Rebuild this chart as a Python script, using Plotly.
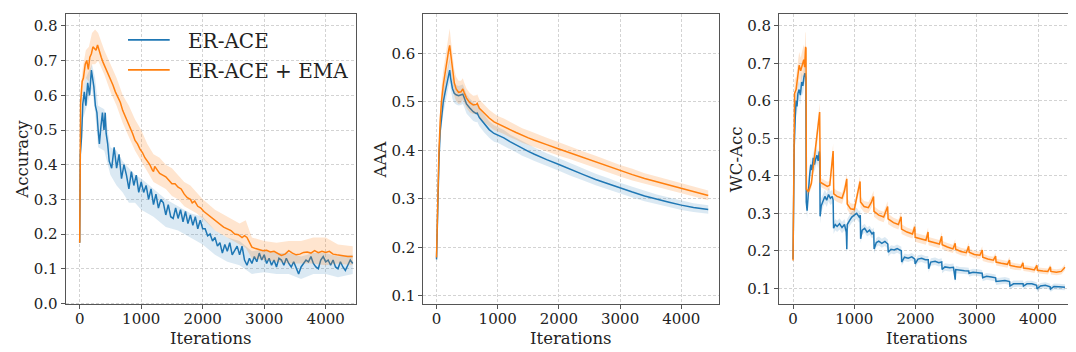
import plotly.graph_objects as go

# ---------------- Panel 1: Accuracy ----------------
acc_blue_iter = ([0, 10, 30, 50, 75, 100, 130, 160, 190, 210,
                  230, 255, 280, 300, 320, 345, 370, 395, 415, 430,
                  455, 480] + list(range(520, 4441, 40)))
acc_blue = [0.175, 0.43, 0.48, 0.575, 0.61, 0.57, 0.636, 0.6, 0.673, 0.645,
            0.625, 0.57, 0.55, 0.5, 0.46, 0.51, 0.55, 0.5, 0.55, 0.49,
            0.46, 0.41,
            0.39, 0.45, 0.39, 0.43, 0.36, 0.40, 0.37, 0.33, 0.38, 0.34, 0.37, 0.32, 0.35,
            0.32, 0.34, 0.30, 0.33, 0.285, 0.315, 0.275, 0.30, 0.29, 0.255,
            0.285, 0.25, 0.245, 0.275, 0.245, 0.27, 0.235, 0.265, 0.23, 0.255,
            0.225, 0.25, 0.215, 0.24, 0.215,
            0.215, 0.195, 0.2, 0.18, 0.19, 0.165, 0.175, 0.145, 0.17, 0.15,
            0.175, 0.14, 0.155, 0.165, 0.14, 0.165, 0.125, 0.11, 0.13, 0.115,
            0.135, 0.12, 0.145, 0.125, 0.14,
            0.115, 0.13, 0.11, 0.125, 0.105, 0.13, 0.125, 0.11, 0.13, 0.115,
            0.105, 0.12, 0.1, 0.085, 0.105, 0.115, 0.125, 0.12, 0.135, 0.115,
            0.105, 0.1, 0.125, 0.135, 0.12,
            0.125, 0.11, 0.125, 0.105, 0.1, 0.12, 0.105, 0.095, 0.11, 0.125, 0.115]

acc_blue_band_iter = [0, 10, 50, 100, 200, 250, 300, 400, 500, 600,
                      700, 800, 900, 1000, 1200, 1400, 1600, 1800, 2000, 2200,
                      2400, 2600, 2800, 3000, 3200, 3400, 3600, 3800, 4000, 4200, 4440]
acc_blue_lo = [0.17, 0.40, 0.53, 0.56, 0.62, 0.55, 0.45, 0.44, 0.37, 0.34,
               0.32, 0.29, 0.29, 0.27, 0.25, 0.22, 0.21, 0.19, 0.17, 0.14,
               0.12, 0.11, 0.085, 0.09, 0.085, 0.085, 0.07, 0.085, 0.085, 0.075, 0.085]
acc_blue_hi = [0.18, 0.46, 0.61, 0.65, 0.69, 0.65, 0.57, 0.56, 0.45, 0.44,
               0.41, 0.39, 0.37, 0.36, 0.33, 0.30, 0.28, 0.26, 0.25, 0.21,
               0.19, 0.18, 0.15, 0.155, 0.145, 0.145, 0.135, 0.145, 0.145, 0.135, 0.14]

acc_orange_iter = [0, 15, 40, 60, 90, 115, 140, 165, 190, 215,
                   240, 265, 290, 320, 350, 380, 420, 460, 500, 540,
                   580, 620, 660, 700, 740, 780, 820, 860, 900, 940,
                   980, 1020, 1060, 1100, 1140, 1180, 1200, 1220, 1260, 1300,
                   1350, 1400, 1450, 1500, 1550, 1600, 1650, 1700, 1750, 1800,
                   1830, 1870, 1920, 1970, 2020, 2070, 2120, 2170, 2220, 2280,
                   2340, 2400, 2460, 2520, 2580, 2640, 2680, 2720, 2760, 2800,
                   2860, 2920, 2980, 3040, 3100, 3160, 3220, 3280, 3340, 3400,
                   3460, 3520, 3580, 3640, 3700, 3760, 3820, 3880, 3940, 4000,
                   4060, 4120, 4180, 4240, 4300, 4360, 4440]
acc_orange = [0.175, 0.58, 0.64, 0.65, 0.69, 0.70, 0.675, 0.71, 0.72, 0.74,
              0.735, 0.73, 0.745, 0.725, 0.71, 0.695, 0.68, 0.665, 0.645, 0.63,
              0.61, 0.595, 0.58, 0.556, 0.54, 0.52, 0.505, 0.49, 0.47, 0.46,
              0.445, 0.435, 0.42, 0.41, 0.40, 0.385, 0.38, 0.395, 0.385, 0.375,
              0.37, 0.365, 0.355, 0.345, 0.345, 0.335, 0.33, 0.315, 0.305, 0.30,
              0.29, 0.295, 0.28, 0.275, 0.265, 0.258, 0.25, 0.245, 0.238, 0.228,
              0.22, 0.215, 0.21, 0.20, 0.198, 0.19, 0.195, 0.19, 0.175, 0.162,
              0.158, 0.155, 0.152, 0.153, 0.148, 0.15, 0.145, 0.138, 0.142, 0.152,
              0.145, 0.14, 0.142, 0.147, 0.148, 0.145, 0.152, 0.146, 0.15, 0.147,
              0.15, 0.142, 0.14, 0.138, 0.137, 0.135, 0.135]

acc_orange_band_iter = [0, 15, 50, 100, 150, 200, 250, 300, 400, 500,
                        600, 700, 800, 900, 1000, 1100, 1200, 1300, 1400, 1500,
                        1600, 1700, 1800, 1900, 2000, 2200, 2400, 2600, 2700, 2800,
                        3000, 3200, 3400, 3600, 3800, 4000, 4200, 4440]
acc_orange_lo = [0.17, 0.55, 0.61, 0.65, 0.64, 0.69, 0.69, 0.70, 0.66, 0.61,
                 0.57, 0.52, 0.48, 0.44, 0.41, 0.38, 0.35, 0.34, 0.33, 0.31,
                 0.30, 0.28, 0.27, 0.26, 0.245, 0.21, 0.19, 0.17, 0.16, 0.13,
                 0.125, 0.12, 0.115, 0.115, 0.115, 0.11, 0.115, 0.11]
acc_orange_hi = [0.18, 0.62, 0.68, 0.73, 0.74, 0.78, 0.79, 0.78, 0.73, 0.69,
                 0.65, 0.60, 0.57, 0.53, 0.50, 0.46, 0.43, 0.42, 0.40, 0.39,
                 0.37, 0.35, 0.34, 0.32, 0.30, 0.27, 0.25, 0.23, 0.24, 0.19,
                 0.18, 0.175, 0.18, 0.18, 0.19, 0.19, 0.17, 0.165]

# ---------------- Panel 2: AAA ----------------
aaa_iter = [0, 20, 40, 60, 80, 110, 140, 170, 200, 215,
            230, 260, 290, 320, 360, 400, 430, 450, 490, 540,
            600, 650, 665, 700, 780, 860, 940, 1000, 1100, 1200,
            1300, 1400, 1500, 1600, 1700, 1800, 2000, 2200, 2400, 2600,
            2800, 3000, 3200, 3400, 3600, 3800, 4000, 4200, 4440]
aaa_orange = [0.179, 0.33, 0.40, 0.46, 0.50, 0.535, 0.563, 0.585, 0.608, 0.617,
              0.60, 0.57, 0.54, 0.527, 0.52, 0.521, 0.527, 0.52, 0.508, 0.499,
              0.494, 0.495, 0.497, 0.487, 0.476, 0.467, 0.459, 0.455, 0.45, 0.443,
              0.437, 0.431, 0.426, 0.421, 0.416, 0.412, 0.403, 0.394, 0.385, 0.376,
              0.367, 0.358, 0.35, 0.342, 0.335, 0.328, 0.321, 0.315, 0.307]
aaa_blue = [0.175, 0.31, 0.38, 0.44, 0.47, 0.50, 0.52, 0.54, 0.558, 0.566,
            0.55, 0.528, 0.518, 0.515, 0.513, 0.514, 0.516, 0.51, 0.496, 0.488,
            0.48, 0.476, 0.477, 0.468, 0.455, 0.443, 0.435, 0.432, 0.426, 0.418,
            0.411, 0.404, 0.398, 0.392, 0.386, 0.381, 0.371, 0.36, 0.35, 0.34,
            0.331, 0.322, 0.314, 0.306, 0.299, 0.293, 0.287, 0.282, 0.278]
aaa_orange_sd = [0.0, 0.02, 0.025, 0.028, 0.03, 0.03, 0.03, 0.032, 0.035, 0.035,
                 0.033, 0.03, 0.027, 0.025, 0.024, 0.023, 0.022, 0.021, 0.02, 0.02,
                 0.019, 0.019, 0.019, 0.018, 0.018, 0.017, 0.017, 0.016, 0.016, 0.016,
                 0.015, 0.015, 0.015, 0.015, 0.014, 0.014, 0.014, 0.013, 0.013, 0.013,
                 0.012, 0.012, 0.012, 0.011, 0.011, 0.011, 0.01, 0.01, 0.01]
aaa_blue_sd = [0.0, 0.02, 0.025, 0.025, 0.025, 0.025, 0.025, 0.025, 0.025, 0.025,
               0.024, 0.022, 0.02, 0.02, 0.02, 0.02, 0.02, 0.02, 0.02, 0.019,
               0.019, 0.018, 0.018, 0.018, 0.018, 0.017, 0.017, 0.016, 0.016, 0.015,
               0.015, 0.015, 0.014, 0.014, 0.014, 0.013, 0.013, 0.013, 0.012, 0.012,
               0.012, 0.011, 0.011, 0.011, 0.01, 0.01, 0.01, 0.009, 0.009]

# ---------------- Panel 3: WC-Acc ----------------
wc_orange_iter = [0, 10, 25, 50, 75, 100, 125, 150, 175, 190,
                  205, 212, 218, 250, 300, 350, 400, 435, 445, 500,
                  560, 600, 630, 655, 665, 720, 800, 840, 878, 885,
                  940, 1000, 1050, 1095, 1102, 1160, 1230, 1280, 1315, 1322,
                  1400, 1480, 1545, 1552, 1640, 1720, 1765, 1772, 1860, 1950,
                  1987, 1994, 2080, 2170, 2205, 2212, 2300, 2390, 2428, 2435,
                  2520, 2610, 2648, 2655, 2740, 2830, 2868, 2875, 2960, 3050,
                  3090, 3097, 3180, 3270, 3308, 3315, 3400, 3500, 3535, 3542,
                  3630, 3720, 3755, 3762, 3850, 3940, 3982, 3989, 4080, 4160,
                  4203, 4210, 4300, 4380, 4440]
wc_orange = [0.174, 0.45, 0.62, 0.63, 0.66, 0.695, 0.68, 0.70, 0.71, 0.69,
             0.744, 0.74, 0.365, 0.357, 0.38, 0.45, 0.51, 0.57, 0.383, 0.378,
             0.372, 0.375, 0.42, 0.466, 0.352, 0.345, 0.34, 0.36, 0.392, 0.325,
             0.312, 0.31, 0.35, 0.385, 0.33, 0.318, 0.315, 0.33, 0.345, 0.305,
             0.295, 0.29, 0.318, 0.285, 0.275, 0.27, 0.291, 0.258, 0.25, 0.245,
             0.264, 0.236, 0.232, 0.228, 0.25, 0.226, 0.222, 0.218, 0.239, 0.216,
             0.21, 0.205, 0.22, 0.204, 0.198, 0.195, 0.212, 0.196, 0.19, 0.188,
             0.202, 0.183, 0.178, 0.175, 0.186, 0.17, 0.167, 0.164, 0.175, 0.161,
             0.158, 0.156, 0.168, 0.154, 0.152, 0.149, 0.161, 0.148, 0.146, 0.145,
             0.157, 0.145, 0.143, 0.145, 0.156]
wc_orange_sd = [0.0, 0.03, 0.035, 0.035, 0.035, 0.035, 0.035, 0.035, 0.04, 0.04,
                0.04, 0.04, 0.01, 0.01, 0.012, 0.015, 0.02, 0.025, 0.012, 0.012,
                0.012, 0.012, 0.015, 0.02, 0.015, 0.015, 0.015, 0.015, 0.015, 0.015,
                0.015, 0.015, 0.015, 0.015, 0.015, 0.015, 0.015, 0.015, 0.015, 0.014,
                0.014, 0.014, 0.014, 0.014, 0.013, 0.013, 0.013, 0.013, 0.012, 0.012,
                0.012, 0.012, 0.012, 0.012, 0.012, 0.011, 0.011, 0.011, 0.011, 0.011,
                0.011, 0.011, 0.011, 0.01, 0.01, 0.01, 0.01, 0.01, 0.01, 0.01,
                0.01, 0.01, 0.009, 0.009, 0.009, 0.009, 0.009, 0.009, 0.009, 0.009,
                0.009, 0.008, 0.008, 0.008, 0.008, 0.008, 0.008, 0.008, 0.008, 0.008,
                0.008, 0.008, 0.008, 0.008, 0.008]

wc_blue_iter = [0, 8, 20, 35, 50, 65, 80, 100, 120, 140,
                160, 180, 195, 210, 216, 230, 250, 270, 290, 310,
                330, 350, 370, 390, 410, 430, 438, 442, 460, 490,
                520, 550, 580, 610, 640, 655, 662, 690, 720, 760,
                800, 840, 870, 878, 885, 920, 960, 1000, 1040, 1080,
                1098, 1104, 1130, 1170, 1210, 1250, 1290, 1318, 1324, 1360,
                1400, 1450, 1500, 1548, 1554, 1600, 1650, 1700, 1768, 1774,
                1820, 1880, 1940, 1988, 1994, 2040, 2100, 2160, 2208, 2214,
                2250, 2320, 2380, 2428, 2434, 2480, 2560, 2620, 2648, 2656,
                2720, 2800, 2868, 2874, 2940, 3020, 3088, 3096, 3160, 3240,
                3308, 3314, 3380, 3460, 3536, 3542, 3600, 3680, 3756, 3762,
                3820, 3900, 3978, 3984, 4040, 4120, 4198, 4204, 4260, 4340,
                4440]
wc_blue = [0.178, 0.43, 0.48, 0.55, 0.60, 0.585, 0.62, 0.63, 0.615, 0.65,
           0.64, 0.665, 0.674, 0.66, 0.33, 0.307, 0.36, 0.40, 0.43, 0.415,
           0.448, 0.43, 0.445, 0.455, 0.44, 0.465, 0.445, 0.292, 0.32, 0.335,
           0.345, 0.335, 0.35, 0.34, 0.345, 0.335, 0.26, 0.27, 0.265, 0.272,
           0.262, 0.27, 0.25, 0.204, 0.27, 0.28, 0.29, 0.295, 0.30, 0.29,
           0.295, 0.232, 0.255, 0.26, 0.25, 0.255, 0.245, 0.25, 0.205, 0.222,
           0.226, 0.22, 0.225, 0.218, 0.196, 0.204, 0.202, 0.206, 0.2, 0.17,
           0.183, 0.18, 0.184, 0.178, 0.165, 0.178, 0.18, 0.176, 0.176, 0.152,
           0.17, 0.172, 0.168, 0.17, 0.15, 0.157, 0.155, 0.156, 0.123, 0.15,
           0.148, 0.147, 0.146, 0.14, 0.143, 0.142, 0.14, 0.128, 0.132, 0.13,
           0.128, 0.118, 0.12, 0.121, 0.118, 0.106, 0.112, 0.113, 0.112, 0.106,
           0.112, 0.112, 0.108, 0.098, 0.106, 0.108, 0.104, 0.098, 0.105, 0.104,
           0.103]
wc_blue_sd = [0.0, 0.03, 0.03, 0.03, 0.025, 0.025, 0.025, 0.025, 0.025, 0.025,
              0.025, 0.025, 0.025, 0.025, 0.02, 0.02, 0.02, 0.02, 0.02, 0.02,
              0.02, 0.02, 0.02, 0.02, 0.02, 0.02, 0.02, 0.02, 0.02, 0.018,
              0.018, 0.018, 0.018, 0.018, 0.018, 0.018, 0.015, 0.015, 0.015, 0.015,
              0.015, 0.015, 0.015, 0.015, 0.015, 0.015, 0.015, 0.015, 0.015, 0.015,
              0.015, 0.012, 0.012, 0.012, 0.012, 0.012, 0.012, 0.012, 0.012, 0.012,
              0.012, 0.012, 0.012, 0.012, 0.011, 0.011, 0.011, 0.011, 0.011, 0.01,
              0.01, 0.01, 0.01, 0.01, 0.01, 0.01, 0.01, 0.01, 0.01, 0.01,
              0.01, 0.01, 0.01, 0.01, 0.01, 0.01, 0.01, 0.01, 0.01, 0.01,
              0.009, 0.009, 0.009, 0.009, 0.009, 0.009, 0.009, 0.009, 0.009, 0.009,
              0.009, 0.009, 0.009, 0.009, 0.009, 0.009, 0.009, 0.009, 0.009, 0.009,
              0.008, 0.008, 0.008, 0.008, 0.008, 0.008, 0.008, 0.008, 0.008, 0.008,
              0.008]

series_names = ["ER-ACE", "ER-ACE + EMA"]
y_titles = ["Accuracy", "AAA", "WC-Acc"]
x_title = "Iterations"

BLUE = "#1f77b4"
ORANGE = "#ff7f0e"
BLUE_FILL = "rgba(31,119,180,0.16)"
ORANGE_FILL = "rgba(255,127,14,0.2)"
FONT = "DejaVu Serif, Liberation Serif, serif"

for a, b in [(acc_blue_iter, acc_blue), (acc_orange_iter, acc_orange),
             (aaa_iter, aaa_orange), (aaa_iter, aaa_blue), (aaa_iter, aaa_orange_sd),
             (aaa_iter, aaa_blue_sd), (wc_orange_iter, wc_orange), (wc_orange_iter, wc_orange_sd),
             (wc_blue_iter, wc_blue), (wc_blue_iter, wc_blue_sd),
             (acc_blue_band_iter, acc_blue_lo), (acc_blue_band_iter, acc_blue_hi),
             (acc_orange_band_iter, acc_orange_lo), (acc_orange_band_iter, acc_orange_hi)]:
    assert len(a) == len(b), (len(a), len(b))

fig = go.Figure()


def band(xs, lo, hi, color, ax):
    fig.add_trace(go.Scatter(x=list(xs) + list(xs)[::-1], y=list(hi) + list(lo)[::-1],
                             fill="toself", fillcolor=color, line=dict(width=0),
                             mode="lines", hoverinfo="skip", showlegend=False,
                             xaxis="x" + ax, yaxis="y" + ax))


def line(xs, ys, color, name, ax):
    fig.add_trace(go.Scatter(x=xs, y=ys, mode="lines", name=name,
                             line=dict(color=color, width=1.5), showlegend=False,
                             xaxis="x" + ax, yaxis="y" + ax))


# panel 1
band(acc_blue_band_iter, acc_blue_lo, acc_blue_hi, BLUE_FILL, "")
line(acc_blue_iter, acc_blue, BLUE, series_names[0], "")
band(acc_orange_band_iter, acc_orange_lo, acc_orange_hi, ORANGE_FILL, "")
line(acc_orange_iter, acc_orange, ORANGE, series_names[1], "")

# panel 2
band(aaa_iter, [m - s for m, s in zip(aaa_blue, aaa_blue_sd)],
     [m + s for m, s in zip(aaa_blue, aaa_blue_sd)], BLUE_FILL, "2")
line(aaa_iter, aaa_blue, BLUE, series_names[0], "2")
band(aaa_iter, [m - s for m, s in zip(aaa_orange, aaa_orange_sd)],
     [m + s for m, s in zip(aaa_orange, aaa_orange_sd)], ORANGE_FILL, "2")
line(aaa_iter, aaa_orange, ORANGE, series_names[1], "2")

# panel 3
band(wc_blue_iter, [m - s for m, s in zip(wc_blue, wc_blue_sd)],
     [m + s for m, s in zip(wc_blue, wc_blue_sd)], BLUE_FILL, "3")
line(wc_blue_iter, wc_blue, BLUE, series_names[0], "3")
band(wc_orange_iter, [m - s for m, s in zip(wc_orange, wc_orange_sd)],
     [m + s for m, s in zip(wc_orange, wc_orange_sd)], ORANGE_FILL, "3")
line(wc_orange_iter, wc_orange, ORANGE, series_names[1], "3")

W, H = 1076, 352
boxes = [(57.5, 348.3), (415.3, 711.0), (771.0, 1066.7)]
top_px, bot_px = 6.0, 303.3
x_ranges = [[-231, 4498], [-216, 4616], [-229, 4599]]
y_ranges = [[-0.003, 0.835], [0.082, 0.682], [0.057, 0.832]]
y_ticks = [[0.0, 0.1, 0.2, 0.3, 0.4, 0.5, 0.6, 0.7, 0.8],
           [0.1, 0.2, 0.3, 0.4, 0.5, 0.6],
           [0.1, 0.2, 0.3, 0.4, 0.5, 0.6, 0.7, 0.8]]
x_ticks = [0, 1000, 2000, 3000, 4000]

common = dict(showline=True, mirror=True, linecolor="#555555", linewidth=1,
              ticks="outside", ticklen=4, tickwidth=1, tickcolor="#555555",
              showgrid=True, gridcolor="#d3d3d3", griddash="3px,2px", gridwidth=0.8,
              zeroline=False, tickfont=dict(family=FONT, size=15, color="#222222"))

layout = dict(width=W, height=H, margin=dict(l=0, r=0, t=0, b=0),
              paper_bgcolor="white", plot_bgcolor="white", showlegend=False)
annotations = []
shapes = []
for i in range(3):
    sfx = "" if i == 0 else str(i + 1)
    l, r = boxes[i]
    layout["xaxis" + sfx] = dict(common, domain=[l / W, r / W], range=x_ranges[i],
                                 tickvals=x_ticks, ticktext=[str(t) for t in x_ticks],
                                 ticklabelstandoff=-3, anchor="y" + sfx)
    layout["yaxis" + sfx] = dict(common, domain=[1 - bot_px / H, 1 - top_px / H],
                                 range=y_ranges[i], tickvals=y_ticks[i],
                                 ticktext=["%.1f" % t for t in y_ticks[i]],
                                 anchor="x" + sfx)
    annotations.append(dict(text=x_title, xref="paper", yref="paper",
                            x=(l + r) / 2 / W, y=1 - 338 / H, showarrow=False,
                            xanchor="center", yanchor="middle",
                            font=dict(family=FONT, size=16.5, color="#222222")))
    annotations.append(dict(text=y_titles[i], xref="paper", yref="paper",
                            x=(l - 43) / W, y=1 - (top_px + bot_px) / 2 / H,
                            showarrow=False, textangle=-90,
                            xanchor="center", yanchor="middle",
                            font=dict(family=FONT, size=16.5, color="#222222")))

# legend drawn inside panel 1
leg_rows = [(series_names[0], BLUE, 32.7), (series_names[1], ORANGE, 63.3)]
for name, col, ypx in leg_rows:
    shapes.append(dict(type="line", xref="paper", yref="paper",
                       x0=120 / W, x1=161.7 / W, y0=1 - ypx / H, y1=1 - ypx / H,
                       line=dict(color=col, width=1.8)))
    annotations.append(dict(text=name, xref="paper", yref="paper",
                            x=177.5 / W, y=1 - (ypx + 0.8) / H, showarrow=False,
                            xanchor="left", yanchor="middle",
                            font=dict(family=FONT, size=20, color="#222222")))

layout["annotations"] = annotations
layout["shapes"] = shapes
fig.update_layout(**layout)
fig.write_html("out.html")
